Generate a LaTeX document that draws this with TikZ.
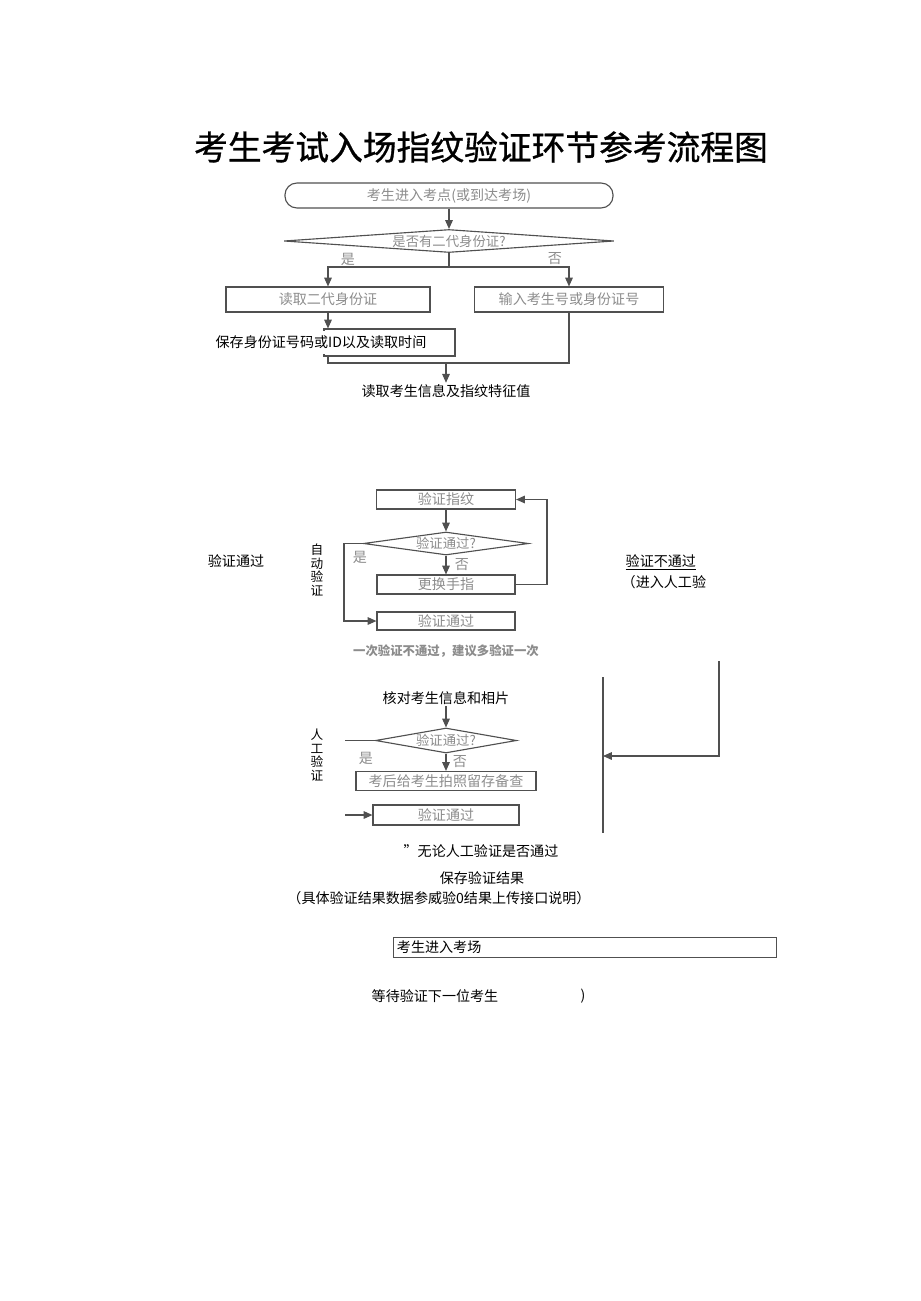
\documentclass[tikz,border=0pt]{standalone}
\usepackage{fontspec}
\setmainfont{Noto Sans CJK SC}
\newfontfamily\titlefont{Noto Sans CJK SC}[FakeBold=0.9]
\usetikzlibrary{positioning, arrows.meta, shapes}
\definecolor{linegray}{RGB}{80,80,80}
\definecolor{labelgray}{RGB}{140,140,140}

\begin{document}
\begin{tikzpicture}[x=0.025cm, y=-0.025cm, >={Triangle[length=0.22cm, width=0.19cm]},
    flowbox/.style={rectangle, draw=linegray, line width=0.8pt, text=labelgray,
        inner sep=0pt, font=\fontsize{10}{12}\selectfont},
    decision/.style={diamond, draw=linegray, line width=0.8pt, text=labelgray,
        inner sep=0pt, font=\fontsize{9.5}{11}\selectfont},
    plain/.style={font=\fontsize{10}{12}\selectfont, inner sep=1pt},
    branch/.style={text=labelgray, font=\fontsize{10}{12}\selectfont, inner sep=0pt},
    vlabel/.style={align=center, font=\fontsize{9}{9.6}\selectfont, inner sep=0pt},
    link/.style={draw=linegray, line width=0.8pt}]
        \useasboundingbox (0,0) rectangle (920,1301);
        \node[font=\fontsize{24}{28}\selectfont\titlefont] (title) at (481,147)
          {考生考试入场指纹验证环节参考流程图};

        % ID card
        \node[flowbox, rounded corners=0.3cm, minimum width=8.2cm,
              minimum height=0.625cm] (start) at (449,195.5) {考生进入考点(或到达考场)};
        \node[decision, aspect=14, minimum width=8.25cm,
              minimum height=0.575cm] (hasid) at (449,241) {是否有二代身份证?};
        \coordinate (split) at (449,267);
        \node[flowbox, minimum width=5.1cm, minimum height=0.625cm] (readid) at (328,299.5) {读取二代身份证};
        \node[flowbox, minimum width=4.725cm, minimum height=0.625cm] (typeid) at (569,299.5) {输入考生号或身份证号};
        \node[flowbox, minimum width=3.275cm, minimum height=0.675cm] (savebox) at (389.5,342.5) {};
        \node[plain, fill=white, inner xsep=0pt, inner ysep=0.12cm] (savetext) at (321,342.5)
          {保存身份证号码或ID以及读取时间};
        \coordinate (join) at (446,363);
        \node[plain] (readinfo) at (446,391) {读取考生信息及指纹特征值};
        \node[branch] (yes1) at (348,259) {是};
        \node[branch] (no1) at (555,259) {否};
        \draw[link, ->] (start) -- (hasid);
        \draw[link] (hasid) -- (split);
        \draw[link, ->] (split) -| (readid.north);
        \draw[link, ->] (split) -| (typeid.north);
        \draw[link, ->] (readid.south) -- (readid.south |- savebox.north);
        \draw[link] (readid.south |- savebox.south) |- (join) -| (typeid.south);
        \draw[link, ->] (join) -- (readinfo);

        % automatic check
        \node[flowbox, minimum width=3.475cm, minimum height=0.475cm] (checkfp) at (446,499.5) {验证指纹};
        \node[decision, aspect=7, minimum width=4.125cm,
              minimum height=0.575cm] (autook) at (446,543.5) {验证通过?};
        \node[flowbox, minimum width=3.45cm, minimum height=0.475cm] (swapfinger) at (446,584.5) {更换手指};
        \node[flowbox, minimum width=3.45cm, minimum height=0.45cm] (autopass) at (446,621) {验证通过};
        \coordinate (loopright) at (547,584.5);
        \coordinate (loopleft) at (344,543.5);
        \draw[link, ->] (checkfp) -- (autook);
        \draw[link, ->] (autook) -- (swapfinger);
        \draw[link, ->] (swapfinger.east) -- (loopright) |- (checkfp.east);
        \draw[link, ->] (autook.west) -- (loopleft) |- (autopass.west);
        \node[branch] (yes2) at (360,557) {是};
        \node[branch] (no2) at (462,565) {否};
        \node[text=labelgray, font=\bfseries\fontsize{8.8}{10}\selectfont] (tryagain) at (446,651)
          {一次验证不通过，建议多验证一次};
        \node[plain] (autopasstext) at (236,561) {验证通过};
        \node[vlabel] (autotag) at (317,570) {自\\动\\验\\证};
        \node[plain, anchor=west] (failtext) at (624,562) {\underline{验证不通过}};
        \node[plain, anchor=west] (manualtext) at (620,582) {（进入人工验};

        % manual check
        \coordinate (failtop) at (719,661);
        \coordinate (manin) at (603,756);
        \coordinate (bartop) at (603,677);
        \coordinate (barbot) at (603,833);
        \draw[link, ->] (failtop) |- (manin);
        \draw[link] (bartop) -- (barbot);
        \node[plain] (checkinfo) at (446,698) {核对考生信息和相片};
        \node[decision, aspect=5.6, minimum width=3.525cm,
              minimum height=0.625cm] (manok) at (446,740.5) {验证通过?};
        \coordinate (manleft) at (345,740.5);
        \node[flowbox, minimum width=4.5cm, minimum height=0.475cm] (photo) at (446,781) {考后给考生拍照留存备查};
        \coordinate (manpassin) at (345,815);
        \node[flowbox, minimum width=3.65cm, minimum height=0.5cm] (manpass) at (446,815) {验证通过};
        \draw[link, ->] (checkinfo) -- (manok);
        \draw[link] (manok.west) -- (manleft);
        \draw[link, ->] (manok) -- (photo);
        \draw[link, ->] (manpassin) -- (manpass.west);
        \node[branch] (yes3) at (366,758) {是};
        \node[branch] (no3) at (460,762) {否};
        \node[vlabel] (manualtag) at (317,755) {人\\工\\验\\证};

        % result
        \node[plain] (anyway) at (481,851) {”无论人工验证是否通过};
        \node[plain] (saveresult) at (482,878) {保存验证结果};
        \node[plain] (resultnote) at (439,898) {（具体验证结果数据参威验0结果上传接口说明）};
        \node[rectangle, draw=linegray, line width=0.6pt, minimum height=0.5cm,
              text width=9.375cm, inner xsep=0.1cm, inner ysep=0pt, align=left,
              font=\fontsize{10}{12}\selectfont] (enterroom) at (584.5,947) {考生进入考场};
        \node[plain] (waitnext) at (435,996) {等待验证下一位考生};
        \node[plain] (closeparen) at (583,996) {)};
      \end{tikzpicture}
\end{document}
